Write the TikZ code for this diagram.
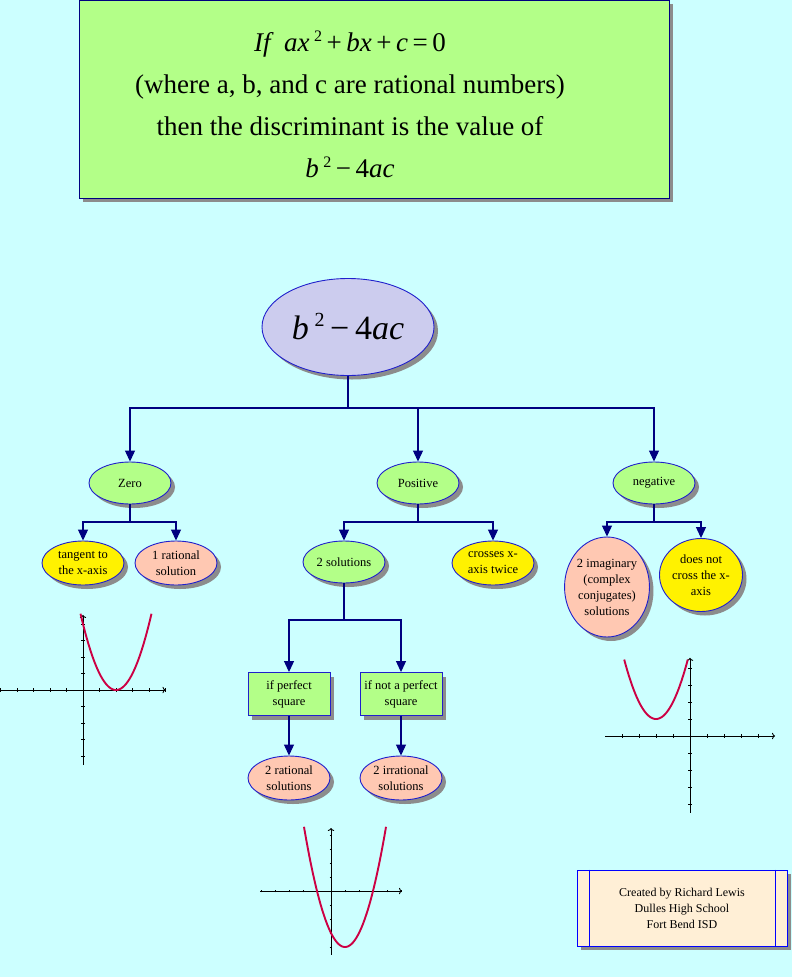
\documentclass[tikz,border=0pt]{standalone}
\usepackage{fontspec}
\setmainfont{Liberation Serif}
\usetikzlibrary{shapes.geometric,arrows.meta,positioning,shadows}
\definecolor{bgcyan}{HTML}{CCFFFF}
\definecolor{leafgreen}{HTML}{B3FF88}
\definecolor{lavender}{HTML}{CCCCEE}
\definecolor{salmon}{HTML}{FFC8B2}
\definecolor{peach}{HTML}{FFEFD6}
\definecolor{edgeblue}{HTML}{2020CC}
\definecolor{navy}{HTML}{000080}
\definecolor{curvered}{HTML}{CC0044}

\begin{document}
\begin{tikzpicture}[
  x=1pt,
  y=-1pt,
  lifted/.style={drop shadow={shadow xshift=4pt, shadow yshift=-4pt, fill=black!45, opacity=1}},
  oval/.style={ellipse, draw=edgeblue, line width=0.9pt, inner sep=0pt, align=center,
    minimum width=82pt, minimum height=43pt, font=\fontsize{12.5}{16}\selectfont, lifted},
  sqbox/.style={rectangle, draw=edgeblue, line width=0.9pt, fill=leafgreen, inner sep=0pt,
    minimum width=82pt, minimum height=43pt, align=center, font=\fontsize{12.5}{16}\selectfont, lifted},
  link/.style={navy, line width=1.1pt},
  flow/.style={link, -{Triangle[width=10pt,length=11pt]}},
  gaxis/.style={black, line width=0.9pt},
  curve/.style={curvered, line width=1.9pt},
  every node/.style={text=black}
]
\useasboundingbox (0,0) rectangle (792,977);
\fill[bgcyan] (0,0) rectangle (792,977);

\node[rectangle, draw=navy, line width=0.9pt, fill=leafgreen, minimum width=590pt, minimum height=198pt,
  inner sep=0pt, lifted] (head) at (374,99) {};
\node[align=center, font=\fontsize{27}{42}\selectfont] (headtext) at (350,104)
  {\textit{If\ \ ax}\,\raisebox{10pt}{\fontsize{16}{16}\selectfont 2}\,+\,\textit{bx}\,+\,\textit{c}\,=\,0\\
   (where a, b, and c are rational numbers)\\
   then the discriminant is the value of\\
   \textit{b}\,\raisebox{10pt}{\fontsize{16}{16}\selectfont 2}\,−\,4\textit{ac}};

\node[oval, fill=lavender, minimum width=172pt, minimum height=97pt, font=\fontsize{34}{40}\selectfont]
  (disc) at (348,327) {\textit{b}\,\raisebox{13pt}{\fontsize{20}{20}\selectfont 2}\,−\,4\textit{ac}};

\node[oval, fill=leafgreen, minimum height=42pt] (zero) at (130,483) {Zero};
\node[oval, fill=leafgreen, minimum height=42pt] (pos) at (418,483) {Positive};
\node[oval, fill=leafgreen, minimum height=42pt] (neg) at (654,483) {negative};

\coordinate (j0) at (348,408);
\draw[link] (disc) -- (j0);
\draw[flow] (j0) -| (zero);
\draw[flow] (j0) -| (pos);
\draw[flow] (j0) -| (neg);

\node[oval, fill=yellow, minimum height=44pt] (tangent) at (83,563) {tangent to\\the x-axis};
\node[oval, fill=salmon, minimum height=44pt] (onerat) at (176,563) {1 rational\\solution};
\coordinate (j1) at (130,522);
\draw[link] (zero) -- (j1);
\draw[flow] (j1) -| (tangent);
\draw[flow] (j1) -| (onerat);

\node[oval, fill=leafgreen, minimum height=42pt] (twosol) at (344,562) {2 solutions};
\node[oval, fill=yellow, minimum height=44pt] (twice) at (493,563) {crosses x-\\axis twice};
\coordinate (j2) at (418,522);
\draw[link] (pos) -- (j2);
\draw[flow] (j2) -| (twosol);
\draw[flow] (j2) -| (twice);

\node[sqbox] (perfect) at (289,694) {if perfect\\square};
\node[sqbox] (notperfect) at (401,694) {if not a perfect\\square};
\coordinate (j3) at (344,620);
\draw[link] (twosol) -- (j3);
\draw[flow] (j3) -| (perfect);
\draw[flow] (j3) -| (notperfect);

\node[oval, fill=salmon, minimum height=44pt] (tworat) at (289,778) {2 rational\\solutions};
\node[oval, fill=salmon, minimum height=44pt] (twoirr) at (401,778) {2 irrational\\solutions};
\draw[flow] (perfect) -- (tworat);
\draw[flow] (notperfect) -- (twoirr);

\node[oval, fill=salmon, minimum width=81pt, minimum height=100pt] (imag) at (607,587)
  {2 imaginary\\(complex\\conjugates)\\solutions};
\node[oval, fill=yellow, minimum width=83pt, minimum height=73pt] (nocross) at (701,575)
  {does not\\cross the x-\\axis};
\coordinate (j4) at (654,522);
\draw[link] (neg) -- (j4);
\draw[flow] (j4) -| (imag);
\draw[flow] (j4) -| (nocross);

% graphs
\begin{scope}[xshift=83pt, yshift=-690pt, x=16.5pt, y=16.5pt]
  \draw[gaxis, -{To[length=3pt]}] (-5.03,0) -- (5.0,0);
  \draw[gaxis, -{To[length=3pt]}] (0,-4.55) -- (0,4.55);
  \foreach \t in {-5,...,-1,1,2,...,5} \draw[gaxis] (\t,-0.1) -- (\t,0.1);
  \foreach \t in {-4,...,-1,1,2,...,4} \draw[gaxis] (-0.1,\t) -- (0.1,\t);
  \draw[curve] plot[domain=-0.15:4.15, samples=60] (\x,{(\x-2)^2});
\end{scope}

\begin{scope}[xshift=331pt, yshift=-891pt, x=14pt, y=14pt]
  \draw[gaxis, -{To[length=3pt]}] (-5.07,0) -- (5.07,0);
  \draw[gaxis, -{To[length=3pt]}] (0,-4.57) -- (0,4.5);
  \foreach \t in {-5,...,-1,1,2,...,5} \draw[gaxis] (\t,-0.1) -- (\t,0.1);
  \foreach \t in {-4,...,-1,1,2,...,4} \draw[gaxis] (-0.1,\t) -- (0.1,\t);
  \draw[curve] plot[domain=-1.93:3.93, samples=60] (\x,{\x*\x-2*\x-3});
\end{scope}

\begin{scope}[xshift=690pt, yshift=-736pt, x=17pt, y=17pt]
  \draw[gaxis, -{To[length=3pt]}] (-5,0) -- (5,0);
  \draw[gaxis, -{To[length=3pt]}] (0,-4.5) -- (0,4.6);
  \foreach \t in {-4,...,-1,1,2,...,4} \draw[gaxis] (\t,-0.1) -- (\t,0.1);
  \foreach \t in {-4,...,-1,1,2,...,4} \draw[gaxis] (-0.1,\t) -- (0.1,\t);
  \draw[curve] plot[domain=-3.87:-0.13, samples=60] (\x,{(\x+2)^2+1});
\end{scope}

\node[rectangle, draw=blue, line width=0.9pt, fill=peach, minimum width=210pt, minimum height=76pt,
  inner sep=0pt, align=center, font=\fontsize{12}{16}\selectfont, lifted] (credit) at (682,908)
  {Created by Richard Lewis\\Dulles High School\\Fort Bend ISD};
\draw[blue, line width=0.9pt] ([xshift=13pt]credit.north west) -- ([xshift=13pt]credit.south west);
\draw[blue, line width=0.9pt] ([xshift=-12pt]credit.north east) -- ([xshift=-12pt]credit.south east);
\end{tikzpicture}
\end{document}
